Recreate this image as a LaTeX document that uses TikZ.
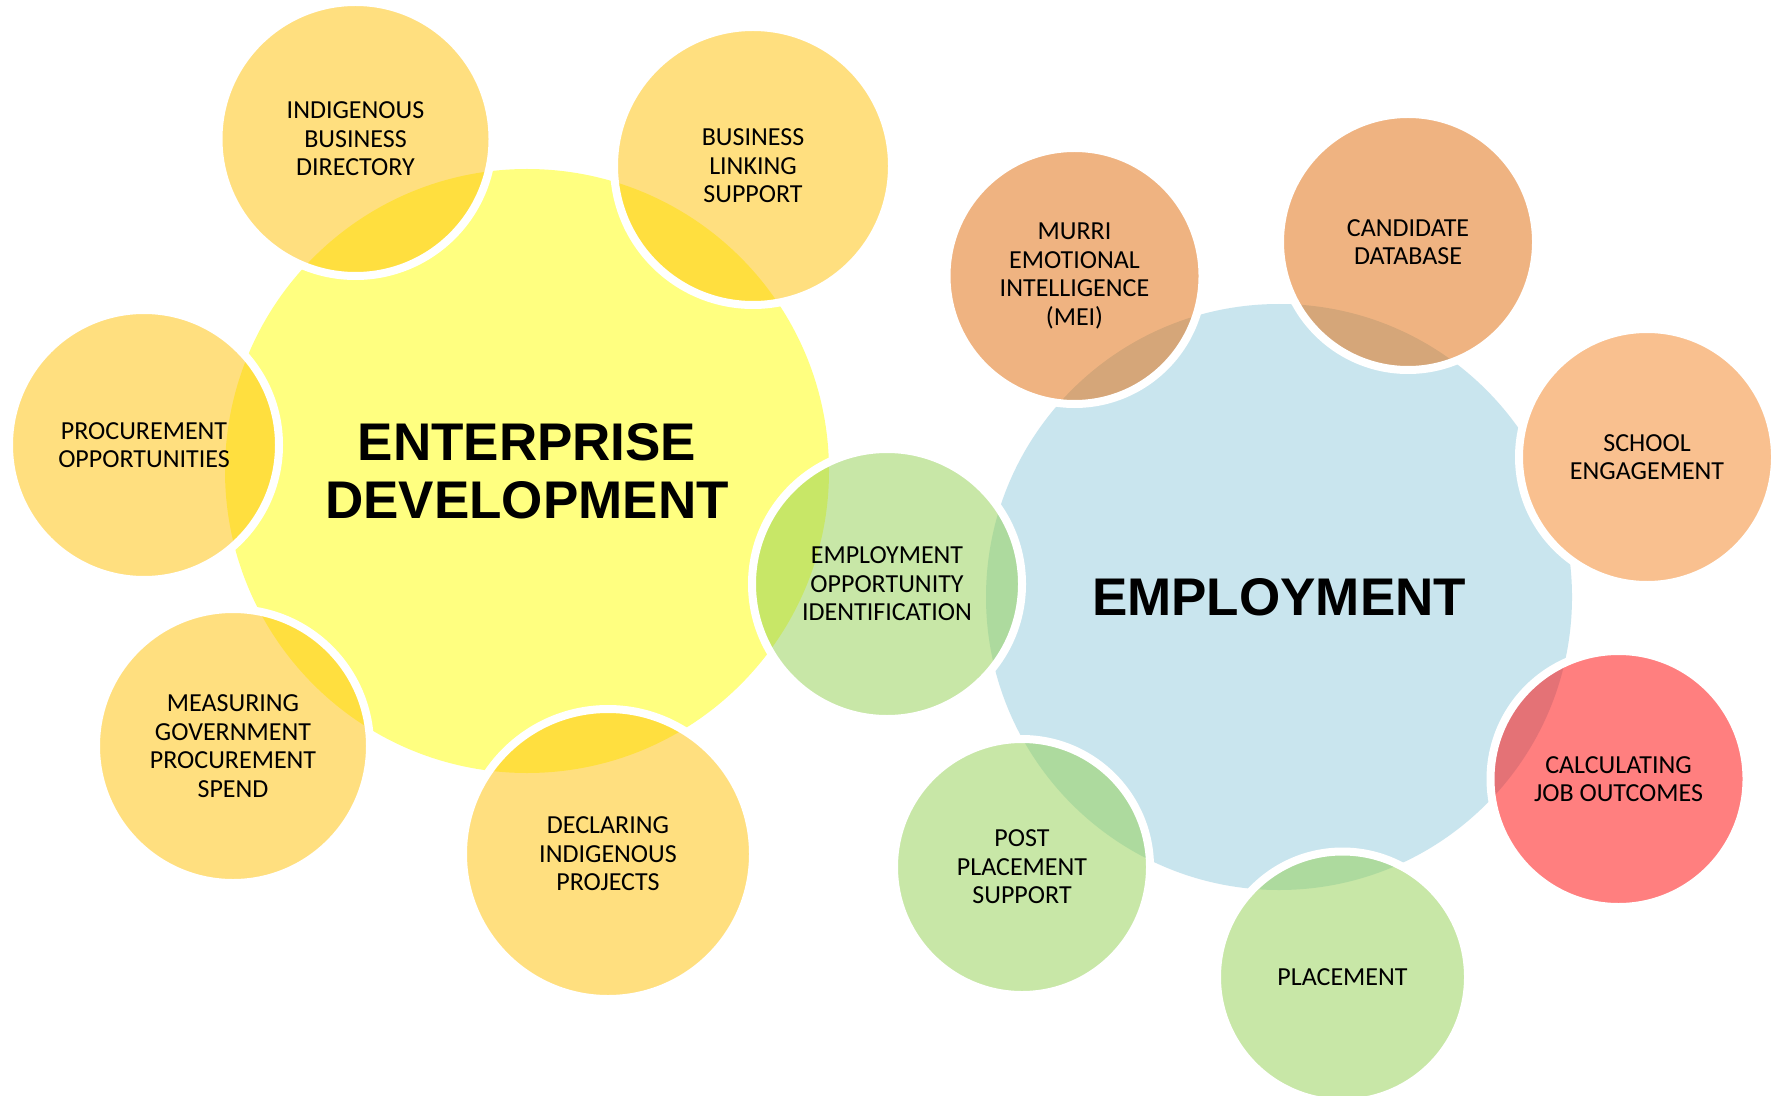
\documentclass[tikz,border=0pt]{standalone}
\usepackage{fontspec}
\setmainfont{Carlito}
\newfontfamily\titlefont{Liberation Sans}
\definecolor{goldc}{HTML}{FFC000}
\definecolor{orangec}{HTML}{E16905}
\definecolor{lorangec}{HTML}{F9C08F}
\definecolor{greenc}{HTML}{92D050}
\definecolor{redc}{HTML}{FF0000}
\definecolor{bigyellow}{HTML}{FFFF80}
\definecolor{bigblue}{HTML}{C9E5EE}
\tikzset{
  bigc/.style={circle, inner sep=0pt, align=center, font=\titlefont\bfseries\fontsize{26.5pt}{29pt}\selectfont},
  smallc/.style={circle, inner sep=0pt, align=center, draw=white, line width=4pt,
    fill opacity=0.5, draw opacity=1, text opacity=1,
    font=\fontsize{13pt}{14.3pt}\selectfont},
}
\begin{document}
\begin{tikzpicture}[x=0.5pt,y=-0.5pt]
\useasboundingbox[fill=white] (0,0) rectangle (1781,1096);
% big circles
\node[bigc, fill=bigyellow, minimum size=604pt*0.5] (ent) at (527,471) {ENTERPRISE\\DEVELOPMENT};
\node[bigc, fill=bigblue, minimum size=586pt*0.5] (emp) at (1279,597) {EMPLOYMENT};
% small circles (yellow group)
\node[smallc, fill=goldc, minimum size=274pt*0.5] (ibd) at (355.5,139) {INDIGENOUS\\BUSINESS\\DIRECTORY};
\node[smallc, fill=goldc, minimum size=278pt*0.5] (bls) at (753,166) {BUSINESS\\LINKING\\SUPPORT};
\node[smallc, fill=goldc, minimum size=270pt*0.5] (po) at (144,445) {PROCUREMENT\\OPPORTUNITIES};
\node[smallc, fill=goldc, minimum size=274pt*0.5] (mgps) at (233,746) {MEASURING\\GOVERNMENT\\PROCUREMENT\\SPEND};
\node[smallc, fill=goldc, minimum size=290pt*0.5] (dip) at (608,854) {DECLARING\\INDIGENOUS\\PROJECTS};
% shared
\node[smallc, fill=greenc, minimum size=270pt*0.5] (eoi) at (887,584) {EMPLOYMENT\\OPPORTUNITY\\IDENTIFICATION};
% employment group
\node[smallc, fill=orangec, minimum size=256pt*0.5] (mei) at (1074.5,276) {MURRI\\EMOTIONAL\\INTELLIGENCE\\(MEI)};
\node[smallc, fill=orangec, minimum size=256pt*0.5] (cd) at (1408,242) {CANDIDATE\\DATABASE};
\node[smallc, fill=lorangec, fill opacity=1, minimum size=256pt*0.5] (se) at (1647,457) {SCHOOL\\ENGAGEMENT};
\node[smallc, fill=redc, minimum size=256pt*0.5] (cjo) at (1618.5,779) {CALCULATING\\JOB OUTCOMES};
\node[smallc, fill=greenc, minimum size=251pt*0.5] (pl) at (1342.5,977) {PLACEMENT};
\node[smallc, fill=greenc, minimum size=256pt*0.5] (pps) at (1022,867) {POST\\PLACEMENT\\SUPPORT};
\end{tikzpicture}
\end{document}
